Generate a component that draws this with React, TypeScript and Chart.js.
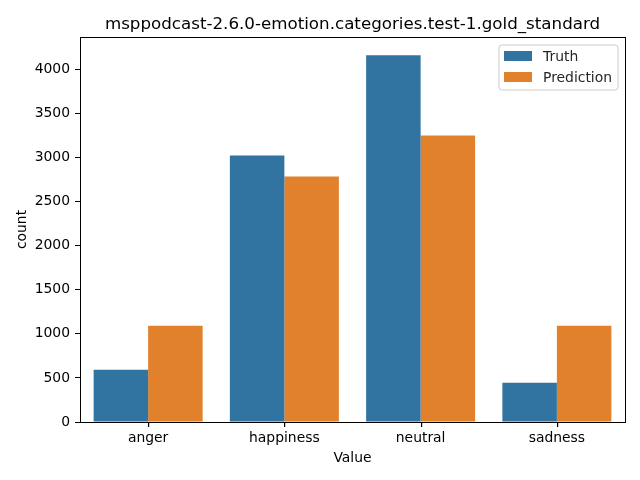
import React, { useEffect, useRef } from "react";
import { Chart, registerables } from "chart.js";

Chart.register(...registerables);

const categories = ["anger", "happiness", "neutral", "sadness"];
const truthValues = [594, 3023, 4160, 446];
const predictionValues = [1093, 2784, 3250, 1093];
const yTicks = [0, 500, 1000, 1500, 2000, 2500, 3000, 3500, 4000];
const yMax = 4368;
const titleText = "msppodcast-2.6.0-emotion.categories.test-1.gold_standard";
const seriesNames = ["Truth", "Prediction"];
const seriesColors = ["#3274a1", "#e1812c"];

const FONT = "DejaVu Sans, sans-serif";

const framePlugin = {
  id: "frameAndLegend",
  afterDraw(chart: any) {
    const { ctx, chartArea } = chart;
    const { left, right, top, bottom } = chartArea;
    ctx.save();
    ctx.strokeStyle = "#000";
    ctx.lineWidth = 1;
    ctx.strokeRect(Math.round(left) + 0.5, Math.round(top) + 0.5, Math.round(right - left), Math.round(bottom - top));
    // x tick marks at category centres
    const xs = chart.scales.x;
    ctx.fillStyle = "#000";
    for (let i = 0; i < categories.length; i++) {
      const px = Math.round(xs.getPixelForValue(i));
      ctx.fillRect(px, Math.round(bottom), 1.2, 5);
    }
    ctx.fillStyle = "#000";
    ctx.font = `16.7px ${FONT}`;
    ctx.textAlign = "center";
    ctx.textBaseline = "alphabetic";
    ctx.fillText(titleText, (left + right) / 2, top - 8.3);
    const bx = right - 126;
    const by = top + 8;
    const bw = 119;
    const bh = 45;
    const r = 3;
    ctx.beginPath();
    ctx.moveTo(bx + r, by);
    ctx.lineTo(bx + bw - r, by);
    ctx.arcTo(bx + bw, by, bx + bw, by + r, r);
    ctx.lineTo(bx + bw, by + bh - r);
    ctx.arcTo(bx + bw, by + bh, bx + bw - r, by + bh, r);
    ctx.lineTo(bx + r, by + bh);
    ctx.arcTo(bx, by + bh, bx, by + bh - r, r);
    ctx.lineTo(bx, by + r);
    ctx.arcTo(bx, by, bx + r, by, r);
    ctx.closePath();
    ctx.fillStyle = "rgba(255,255,255,0.8)";
    ctx.fill();
    ctx.strokeStyle = "#cccccc";
    ctx.stroke();
    ctx.font = `13.9px ${FONT}`;
    ctx.textAlign = "left";
    ctx.textBaseline = "middle";
    seriesNames.forEach((name, i) => {
      const cy = by + 11 + i * 21;
      ctx.fillStyle = seriesColors[i];
      ctx.fillRect(bx + 5, cy - 5, 28, 10);
      ctx.fillStyle = "#262626";
      ctx.fillText(name, bx + 44, cy + 1);
    });
    ctx.restore();
  },
};

export default function App() {
  const ref = useRef<HTMLCanvasElement>(null);
  useEffect(() => {
    document.body.style.margin = "0";
    const chart = new Chart(ref.current as HTMLCanvasElement, {
      type: "bar",
      data: {
        labels: categories,
        datasets: [
          { label: seriesNames[0], data: truthValues, backgroundColor: seriesColors[0], borderWidth: 0, inflateAmount: 0 },
          { label: seriesNames[1], data: predictionValues, backgroundColor: seriesColors[1], borderWidth: 0, inflateAmount: 0 },
        ],
      },
      options: {
        animation: false,
        responsive: false,
        devicePixelRatio: 1,
        layout: { padding: { left: 0, right: 15, top: 37, bottom: 0 } },
        datasets: { bar: { categoryPercentage: 0.8, barPercentage: 1 } },
        plugins: { legend: { display: false }, tooltip: { enabled: false }, title: { display: false } },
        scales: {
          x: {
            offset: true,
            grid: { display: true, drawOnChartArea: false, drawTicks: true, tickLength: 5, color: "rgba(0,0,0,0)" },
            border: { display: true, color: "#000" },
            ticks: { color: "#000", font: { family: FONT, size: 13.9 }, padding: 3 },
            title: { display: true, text: "Value", color: "#000", font: { family: FONT, size: 13.9 }, padding: { top: 0, bottom: 13 } },
            afterFit: (s: any) => { s.height = 58; },
          },
          y: {
            min: 0,
            max: yMax,
            grid: { display: true, drawOnChartArea: false, tickLength: 5, color: "#000" },
            border: { display: true, color: "#000" },
            ticks: { color: "#000", font: { family: FONT, size: 13.9 }, padding: 5, callback: (v: any) => String(v) },
            afterBuildTicks: (s: any) => { s.ticks = yTicks.map((v) => ({ value: v })); },
            title: { display: true, text: "count", color: "#000", font: { family: FONT, size: 13.9 }, padding: { top: 14, bottom: 0 } },
            afterFit: (s: any) => { s.width = 80; },
          },
        },
      },
      plugins: [framePlugin],
    });
    return () => chart.destroy();
  }, []);
  return (
    <div style={{ width: 640, height: 480 }}>
      <canvas ref={ref} width={640} height={480} style={{ display: "block" }} />
    </div>
  );
}
